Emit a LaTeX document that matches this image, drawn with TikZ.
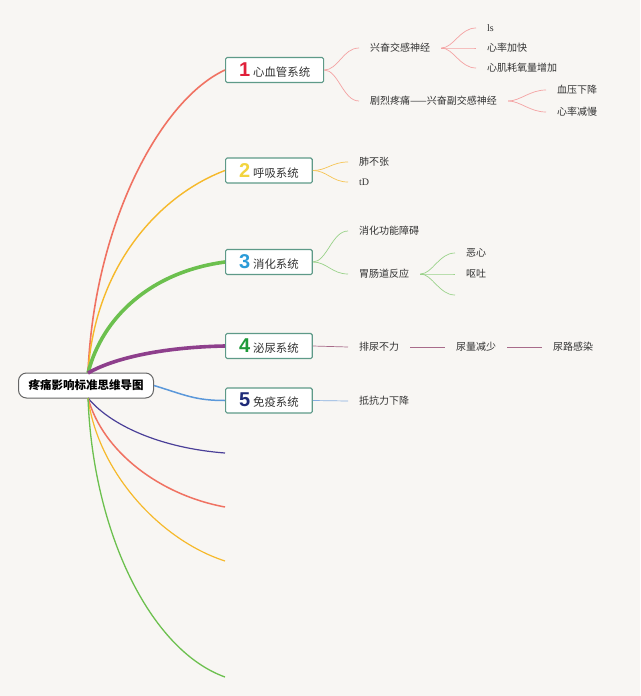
\documentclass[tikz,border=0pt]{standalone}
\usepackage{fontspec}
\setmainfont{Noto Sans CJK SC}
\newfontfamily\numfont{Liberation Sans}
\newfontfamily\latinserif{Liberation Serif}
\definecolor{bg}{HTML}{F8F6F3}
\definecolor{txt}{HTML}{333333}
\definecolor{boxc}{HTML}{5E9A88}
\definecolor{cRed}{HTML}{F07262}
\definecolor{cOrange}{HTML}{F6B92B}
\definecolor{cGreen}{HTML}{6CC04E}
\definecolor{cPurple}{HTML}{8E3F8C}
\definecolor{cBlue}{HTML}{5B98DA}
\definecolor{cIndigo}{HTML}{4A3F98}
\definecolor{tRed}{HTML}{F4A3A3}
\definecolor{tOrange}{HTML}{F6C453}
\definecolor{tGreen}{HTML}{9AD28A}
\definecolor{tPurple}{HTML}{A86B8A}
\definecolor{tBlue}{HTML}{86AEE0}
\definecolor{n1}{HTML}{E0203A}
\definecolor{n2}{HTML}{F2D43E}
\definecolor{n3}{HTML}{2A9BD8}
\definecolor{n4}{HTML}{1E9A3A}
\definecolor{n5}{HTML}{1E2A78}
\tikzset{
  sysbox/.style={draw=boxc, line width=1.1pt, fill=white, rounded corners=1.5pt,
    minimum height=25pt, inner xsep=13.5pt, anchor=west, text=txt},
  child/.style={anchor=west, inner xsep=11pt, inner ysep=2pt,
    font=\fontsize{10}{12}\selectfont, text=txt},
  rootbox/.style={draw=gray!80!black, line width=1pt, fill=white, rounded corners=8pt,
    minimum width=135pt, minimum height=25pt, font=\bfseries\fontsize{11.5}{12}\selectfont, text=black},
  thin/.style={line width=0.7pt},
}
\newcommand{\boxlabel}[3]{{\numfont\bfseries\fontsize{20}{20}\selectfont\color{#1}#2}\hspace{3pt}{\fontsize{11.4}{12}\selectfont #3}}
\begin{document}
\begin{tikzpicture}[x=1pt,y=-1pt]
\fill[bg] (0,0) rectangle (640,696);
\useasboundingbox (0,0) rectangle (640,696);

% root
\node[rootbox] (root) at (86,385.5) {疼痛影响标准思维导图};
\coordinate (ot) at (88,373);
\coordinate (ob) at (88,398);

% system boxes
\node[sysbox] (b1) at (225,70) {\boxlabel{n1}{1}{心血管系统}};
\node[sysbox] (b2) at (225,170.5) {\boxlabel{n2}{2}{呼吸系统}};
\node[sysbox] (b3) at (225,262) {\boxlabel{n3}{3}{消化系统}};
\node[sysbox] (b4) at (225,346) {\boxlabel{n4}{4}{泌尿系统}};
\node[sysbox] (b5) at (225,400.5) {\boxlabel{n5}{5}{免疫系统}};

% empty branch ends
\coordinate (e1) at (225,453);
\coordinate (e2) at (225,507);
\coordinate (e3) at (225,561);
\coordinate (e4) at (225,677);

% main curves
\draw[cRed, line width=1.6pt] (ot) .. controls (94,225) and (160,100) .. (b1.west);
\draw[cOrange, line width=1.4pt] (ot) .. controls (95,265) and (160,195) .. (b2.west);
\draw[cGreen, line width=3.6pt] (ot) .. controls (102,318) and (150,272) .. (b3.west);
\draw[cPurple, line width=3.6pt] (ot) .. controls (118,356) and (170,347) .. (b4.west);
\draw[cBlue, line width=1.5pt] (root.east) .. controls (185,395) and (195,400.5) .. (b5.west);
\draw[cIndigo, line width=1.2pt] (ob) .. controls (110,425) and (160,448) .. (e1);
\draw[cRed, line width=1.5pt] (ob) .. controls (103,452) and (160,495) .. (e2);
\draw[cOrange, line width=1.2pt] (ob) .. controls (98,472) and (160,540) .. (e3);
\draw[cGreen, line width=1.3pt] (ob) .. controls (93,532) and (150,650) .. (e4);

% branch 1
\node[child] (c11) at (359,48) {兴奋交感神经};
\node[child] (c12) at (359,101) {剧烈疼痛——兴奋副交感神经};
\node[child] (l111) at (476,28) {\latinserif ls};
\node[child] (l112) at (476,48) {心率加快};
\node[child] (l113) at (476,68) {心肌耗氧量增加};
\node[child] (l121) at (546,90) {血压下降};
\node[child] (l122) at (546,112) {心率减慢};
\foreach \c in {c11,c12}
  \draw[tRed, thin] (b1.east) .. controls +(14,0) and +(-16,0) .. (\c.west);
\foreach \c in {l111,l112,l113}
  \draw[tRed, thin] (c11.east) .. controls +(12,0) and +(-16,0) .. (\c.west);
\foreach \c in {l121,l122}
  \draw[tRed, thin] (c12.east) .. controls +(12,0) and +(-16,0) .. (\c.west);

% branch 2
\node[child] (c21) at (348,162) {肺不张};
\node[child] (c22) at (348,182) {\latinserif tD};
\foreach \c in {c21,c22}
  \draw[tOrange, thin] (b2.east) .. controls +(14,0) and +(-16,0) .. (\c.west);

% branch 3
\node[child] (c31) at (348,231) {消化功能障碍};
\node[child] (c32) at (348,274) {胃肠道反应};
\node[child] (l321) at (455,253) {恶心};
\node[child] (l322) at (455,274) {呕吐};
\coordinate (l323) at (455,295);
\foreach \c in {c31,c32}
  \draw[tGreen, thin] (b3.east) .. controls +(14,0) and +(-16,0) .. (\c.west);
\foreach \c in {l321,l322}
  \draw[tGreen, thin] (c32.east) .. controls +(12,0) and +(-16,0) .. (\c.west);
\draw[tGreen, thin] (c32.east) .. controls +(12,0) and +(-16,0) .. (l323);

% branch 4
\node[child] (c41) at (348,347) {排尿不力};
\node[child] (c42) at (445,347) {尿量减少};
\node[child] (c43) at (542,347) {尿路感染};
\draw[tPurple, thin] (b4.east) -- (c41.west);
\draw[tPurple, thin] (c41.east) -- (c42.west);
\draw[tPurple, thin] (c42.east) -- (c43.west);

% branch 5
\node[child] (c51) at (348,401) {抵抗力下降};
\draw[tBlue, thin] (b5.east) -- (c51.west);
\end{tikzpicture}
\end{document}
